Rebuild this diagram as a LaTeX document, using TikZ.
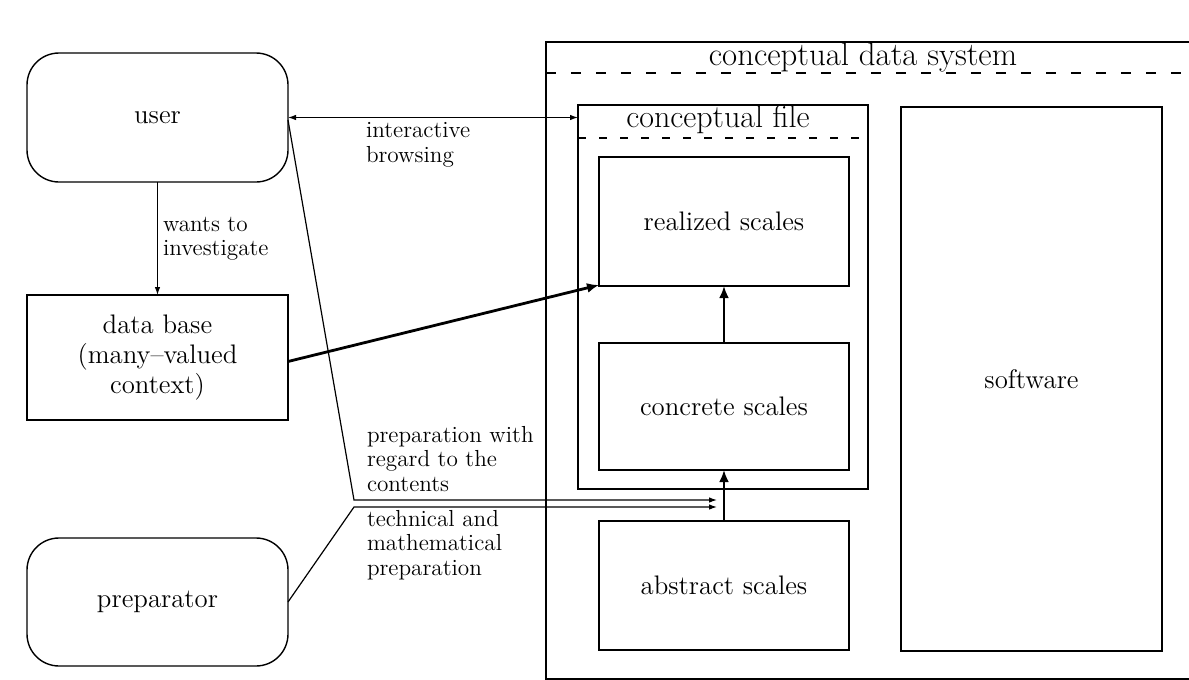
\documentclass[tikz,border=0pt]{standalone}
\usetikzlibrary{arrows.meta,calc}
\begin{document}
\begin{tikzpicture}[x=0.5pt,y=-0.5pt,
  every node/.style={inner sep=0pt, outer sep=0pt},
  boxn/.style={draw, line width=0.7pt, font=\fontsize{13.4}{14.8}\selectfont, align=center},
  roundn/.style={boxn, rounded corners=16pt},
  lbl/.style={font=\fontsize{11.6}{12.2}\selectfont, align=left, anchor=west},
  thinarrow/.style={line width=0.6pt, -{Latex[length=4pt,width=2.8pt]}},
  thickarrow/.style={line width=1.4pt, -{Latex[length=6pt,width=5pt]}},
  dashline/.style={line width=0.7pt, dash pattern=on 5pt off 7.5pt}
]
\useasboundingbox (0,0) rectangle (1189,680);
\fill[white] (0,0) rectangle (1189,680);

% outer frame: conceptual data system
\draw[line width=0.7pt] (1189,42) -- (546,42) -- (546,679) -- (1189,679);
\draw[dashline] (546,73) -- (1189,73);
\node[anchor=base, font=\fontsize{16.4}{18}\selectfont] (cds) at (863,65) {conceptual data system};

% left column
\node[roundn, minimum width=130.5pt, minimum height=64.5pt] (user) at (157.5,117.5) {user};
\node[boxn, minimum width=130.5pt, minimum height=62.5pt] (db) at (157.5,357.5) {data base\\(many--valued\\context)};
\node[roundn, minimum width=130.5pt, minimum height=64pt] (prep) at (157.5,602) {preparator};

% conceptual file
\node[boxn, minimum width=145pt, minimum height=192pt] (cfile) at (723,297) {};
\coordinate (cfd) at (0,138);
\draw[line width=0.7pt, dash pattern=on 4pt off 6.5pt] (cfile.west |- cfd) -- (cfile.east |- cfd);
\node[anchor=base, font=\fontsize{16}{18}\selectfont] (cft) at (718,127) {conceptual file};

\node[boxn, minimum width=125pt, minimum height=64.5pt] (realized) at (724,221.5) {realized scales};
\node[boxn, minimum width=125pt, minimum height=63.5pt] (concrete) at (724,406.5) {concrete scales};
\node[boxn, minimum width=125pt, minimum height=64.5pt] (abstract) at (724,585.5) {abstract scales};
\node[boxn, minimum width=130.5pt, minimum height=272pt] (software) at (1031.5,379) {software};

% labels
\node[lbl] (lwants) at (163,239) {wants to\\investigate};
\node[lbl] (lint) at (366,145) {interactive\\browsing};
\node[lbl] (lprep) at (367,459) {preparation with\\regard to the\\contents};
\node[lbl] (ltech) at (367,545) {technical and\\mathematical\\preparation};

% connectors
\draw[thinarrow] (user.south) -- (db.north);
\draw[line width=0.6pt, {Latex[length=4pt,width=2.8pt]}-{Latex[length=4pt,width=2.8pt]}] (user.east) -- (user.east -| cfile.west);
\coordinate (k1) at (354,500);
\coordinate (k2) at (354,507);
\draw[thinarrow, shorten >=3.5pt] ([yshift=-1.25pt]user.east) -- (k1) -- (k1 -| abstract.north);
\draw[thinarrow, shorten >=3.5pt] (prep.east) -- (k2) -- (k2 -| abstract.north);
\draw[thickarrow] ([yshift=-2pt]db.east) -- ([yshift=0.5pt]realized.south west);
\draw[thickarrow] (concrete.north) -- (realized.south);
\draw[thickarrow] (abstract.north) -- (concrete.south);
\end{tikzpicture}
\end{document}
